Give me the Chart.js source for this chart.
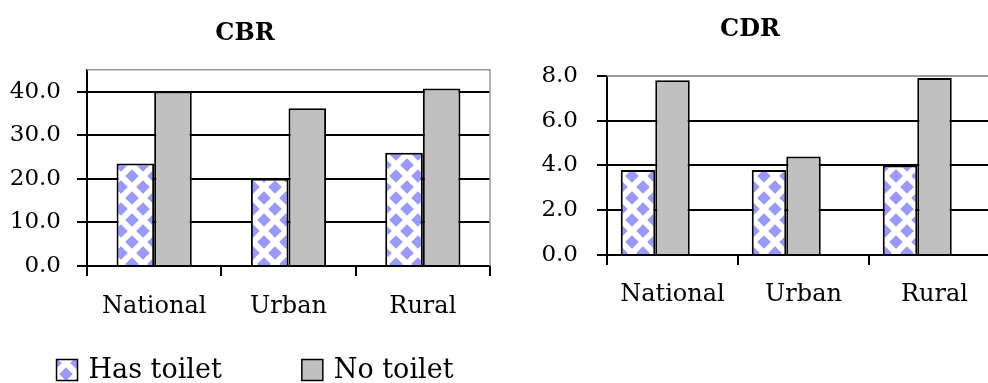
<!DOCTYPE html>
<html>
<head>
<meta charset="utf-8">
<script src="https://cdn.jsdelivr.net/npm/chart.js@4"></script>
<style>
  html, body { margin: 0; padding: 0; background: #fff; width: 988px; height: 383px; overflow: hidden; position: relative; }
  .panel { position: absolute; top: 0; height: 383px; }
  #cbrPanel { left: 0; width: 500px; }
  #cdrPanel { left: 500px; width: 578px; }
</style>
</head>
<body>
<div class="panel" id="cbrPanel"><canvas id="cbr" width="500" height="383"></canvas></div>
<div class="panel" id="cdrPanel"><canvas id="cdr" width="578" height="383"></canvas></div>
<script>
// Crude birth rate / crude death rate by toilet access
const categories = ['National', 'Urban', 'Rural'];
const seriesNames = ['Has toilet', 'No toilet'];

const cbrHasToilet = [23.5, 20.0, 26.0];
const cbrNoToilet  = [40.0, 36.2, 40.7];
const cbrTicks = [0, 10, 20, 30, 40];

const cdrHasToilet = [3.8, 3.8, 4.0];
const cdrNoToilet  = [7.8, 4.4, 7.9];
const cdrTicks = [0, 2, 4, 6, 8];

const SERIF = "'DejaVu Serif', 'Liberation Serif', serif";
const BLUE = '#9999ff';
const GREY = '#c0c0c0';
const FRAME = '#9a9a9a';

// Blue diamond lattice used for the "Has toilet" bars
function diamondPattern() {
  const s = 22, r = 6.8;
  const c = document.createElement('canvas');
  c.width = c.height = s;
  const g = c.getContext('2d');
  g.fillStyle = '#fff';
  g.fillRect(0, 0, s, s);
  g.fillStyle = BLUE;
  const diamond = (cx, cy) => {
    g.beginPath();
    g.moveTo(cx, cy - r); g.lineTo(cx + r, cy); g.lineTo(cx, cy + r); g.lineTo(cx - r, cy);
    g.closePath(); g.fill();
  };
  [[0, 0], [s, 0], [s / 2, s / 2], [0, s], [s, s]].forEach(([x, y]) => diamond(x, y));
  return g.createPattern(c, 'repeat');
}
const hatch = diamondPattern();

// Grey frame along the top and right of the plot area
const plotFrame = {
  id: 'plotFrame',
  beforeDatasetsDraw(chart) {
    const { ctx, chartArea: a } = chart;
    ctx.save();
    ctx.strokeStyle = FRAME;
    ctx.lineWidth = 1.5;
    ctx.beginPath();
    ctx.moveTo(a.left, a.top);
    ctx.lineTo(a.right, a.top);
    ctx.lineTo(a.right, a.bottom);
    ctx.stroke();
    ctx.restore();
  }
};

// Shared legend drawn under the CBR panel
const bottomLegend = {
  id: 'bottomLegend',
  afterDraw(chart, args, opts) {
    const { ctx } = chart;
    const box = 21, gap = 11, itemGap = 80;
    ctx.save();
    ctx.font = `${opts.fontSize}px ${SERIF}`;
    const items = chart.data.datasets.slice(0, 2).map(ds => ({
      text: ds.label, fill: ds.backgroundColor, w: box + gap + ctx.measureText(ds.label).width
    }));
    const total = items.reduce((s, it) => s + it.w, 0) + itemGap * (items.length - 1);
    let x = opts.centerX - total / 2;
    const y = opts.centerY;
    items.forEach(it => {
      ctx.fillStyle = it.fill;
      ctx.fillRect(x, y - box / 2, box, box);
      ctx.strokeStyle = '#000';
      ctx.lineWidth = 1.5;
      ctx.strokeRect(x, y - box / 2, box, box);
      ctx.fillStyle = '#000';
      ctx.textBaseline = 'middle';
      ctx.textAlign = 'left';
      ctx.fillText(it.text, x + box + gap, y + 1);
      x += it.w + itemGap;
    });
    ctx.restore();
  }
};

function makeChart(id, cfg) {
  return new Chart(document.getElementById(id), {
    type: 'bar',
    data: {
      labels: categories,
      datasets: cfg.datasets
    },
    plugins: cfg.plugins,
    options: {
      responsive: false,
      animation: false,
      devicePixelRatio: 1,
      categoryPercentage: cfg.catPct,
      barPercentage: 1,
      layout: { padding: cfg.padding },
      plugins: {
        legend: { display: false },
        tooltip: { enabled: false },
        title: {
          display: true,
          text: cfg.title,
          color: '#000',
          font: { family: SERIF, size: 24, weight: 'bold', lineHeight: 1.2 },
          padding: cfg.titlePadding
        },
        bottomLegend: cfg.legend || false
      },
      scales: {
        x: {
          afterFit: s => { s.height = 60; },
          grid: { offset: true, drawOnChartArea: false, tickLength: 10, color: '#000', lineWidth: 2 },
          border: { color: '#000', width: 2 },
          ticks: { color: '#000', font: { family: SERIF, size: 24 }, padding: cfg.xPad, maxRotation: 0, autoSkip: false }
        },
        y: {
          min: 0,
          max: cfg.max,
          afterBuildTicks: s => { s.ticks = cfg.ticks.map(v => ({ value: v })); },
          afterFit: s => { s.width = cfg.yWidth; },
          grid: {
            color: c => (c.tick && c.tick.value === cfg.max) ? FRAME : '#000',
            tickColor: '#000',
            lineWidth: 2,
            tickLength: 10
          },
          border: { color: '#000', width: 2 },
          ticks: {
            color: '#000',
            font: { family: SERIF, size: 23 },
            padding: cfg.yPad,
            callback: v => Number(v).toFixed(1)
          }
        }
      }
    }
  });
}

const barStyle = { borderColor: '#000', borderWidth: 2 };

makeChart('cbr', {
  title: 'CBR',
  max: 45,
  ticks: cbrTicks,
  yWidth: 87,
  yPad: 16,
  xPad: 16,
  catPct: 0.56,
  padding: { left: 0, right: 10, top: 0, bottom: 57 },
  titlePadding: { top: 19, bottom: 22 },
  datasets: [
    { label: seriesNames[0], data: cbrHasToilet, backgroundColor: hatch, ...barStyle },
    { label: seriesNames[1], data: cbrNoToilet, backgroundColor: GREY, ...barStyle }
  ],
  plugins: [plotFrame, bottomLegend],
  legend: { centerX: 255, centerY: 370, fontSize: 27 }
});

makeChart('cdr', {
  title: 'CDR',
  max: 8,
  ticks: cdrTicks,
  yWidth: 107,
  yPad: 19,
  xPad: 15,
  catPct: 0.79,
  padding: { left: 0, right: 78, top: 0, bottom: 68 },
  titlePadding: { top: 15, bottom: 32 },
  datasets: [
    { label: seriesNames[0], data: cdrHasToilet, backgroundColor: hatch, ...barStyle },
    { label: seriesNames[1], data: cdrNoToilet, backgroundColor: GREY, ...barStyle },
    // empty third slot keeps each pair left of the category centre
    { label: '', data: [null, null, null], backgroundColor: 'transparent', borderWidth: 0 }
  ],
  plugins: [plotFrame]
});
</script>
</body>
</html>
